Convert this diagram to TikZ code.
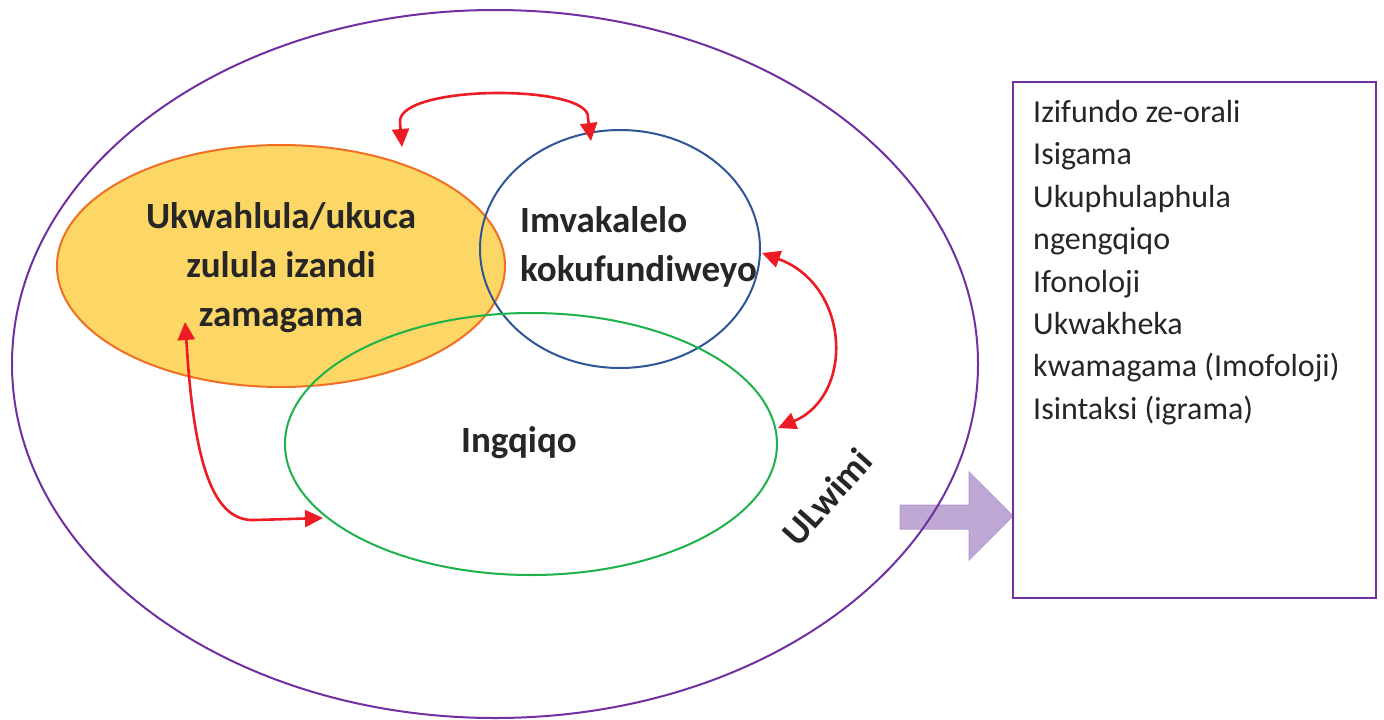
\documentclass[tikz,border=0pt]{standalone}
\usepackage{fontspec}
\setmainfont{Carlito}
\usetikzlibrary{shapes.geometric,arrows.meta}
\definecolor{ulpurple}{HTML}{7030A0}
\definecolor{ulorange}{HTML}{F07023}
\definecolor{ulgold}{HTML}{FCD766}
\definecolor{ulblue}{HTML}{2F5597}
\definecolor{ulgreen}{HTML}{1DB24A}
\definecolor{ulred}{HTML}{ED1C24}
\definecolor{ullilac}{HTML}{BFA8D4}
\definecolor{ullilacedge}{HTML}{B49AD0}
\begin{document}
\begin{tikzpicture}[x=1pt,y=-1pt,
  ring/.style={ellipse,draw,line width=2pt,inner sep=0pt},
  biglabel/.style={font=\bfseries\fontsize{37}{49}\selectfont,text=black!85,inner sep=0pt},
  listtext/.style={font=\fontsize{32}{42.4}\selectfont,text=black!85,align=left,inner sep=0pt},
  link/.style={draw=ulred,line width=2.6pt,{Triangle[length=18pt,width=17pt]}-{Triangle[length=18pt,width=17pt]}}]
\useasboundingbox (0,0) rectangle (1384,720);
\fill[white] (0,0) rectangle (1384,720);
% block arrow
\fill[ullilac,draw=ullilacedge,line width=1pt] (900,505) -- (969,505) -- (969,472) -- (1013,516) -- (969,560) -- (969,529) -- (900,529) -- cycle;
% big ellipse
\node[ring,draw=ulpurple,minimum width=966pt,minimum height=708pt] (lang) at (495,364) {};
% orange filled ellipse
\node[ring,draw=ulorange,fill=ulgold,minimum width=448pt,minimum height=242pt] (sound) at (281,266) {};
\node[ring,draw=ulblue,minimum width=280pt,minimum height=238pt] (mean) at (620,249) {};
\node[ring,draw=ulgreen,minimum width=492pt,minimum height=262pt] (sense) at (531,444) {};
% labels
\node[biglabel,align=center] (soundtxt) at (281,268) {Ukwahlula/ukuca\\zulula izandi\\zamagama};
\node[biglabel,align=left,anchor=west] (meantxt) at (520,247) {Imvakalelo\\kokufundiweyo};
\node[biglabel] (sensetxt) at (519,443) {Ingqiqo};
\node[biglabel,rotate=48] (langtxt) at (827,497) {ULwimi};
% box
\node[draw=ulpurple,line width=1.6pt,minimum width=363pt,minimum height=516pt,inner sep=0pt] (box) at (1194.5,340) {};
\node[listtext,anchor=north west] (list) at (1033,100) {Izifundo ze-orali\\Isigama\\Ukuphulaphula\\ngengqiqo\\Ifonoloji\\Ukwakheka\\kwamagama (Imofoloji)\\Isintaksi (igrama)};
% red connectors
\coordinate (a1) at (402,147);
\coordinate (a2) at (591,141);
\coordinate (b1) at (762,253);
\coordinate (b2) at (778,428);
\coordinate (c1) at (185,322);
\coordinate (c2) at (323,518);
\draw[link] (a1) -- (400,122) .. controls (398,84) and (592,84) .. (588,118) -- (a2);
\draw[link] (b1) .. controls (850,285) and (855,395) .. (b2);
\draw[link] (c1) -- (187,350) .. controls (195,470) and (215,522) .. (255,520) -- (c2);
\end{tikzpicture}
\end{document}
